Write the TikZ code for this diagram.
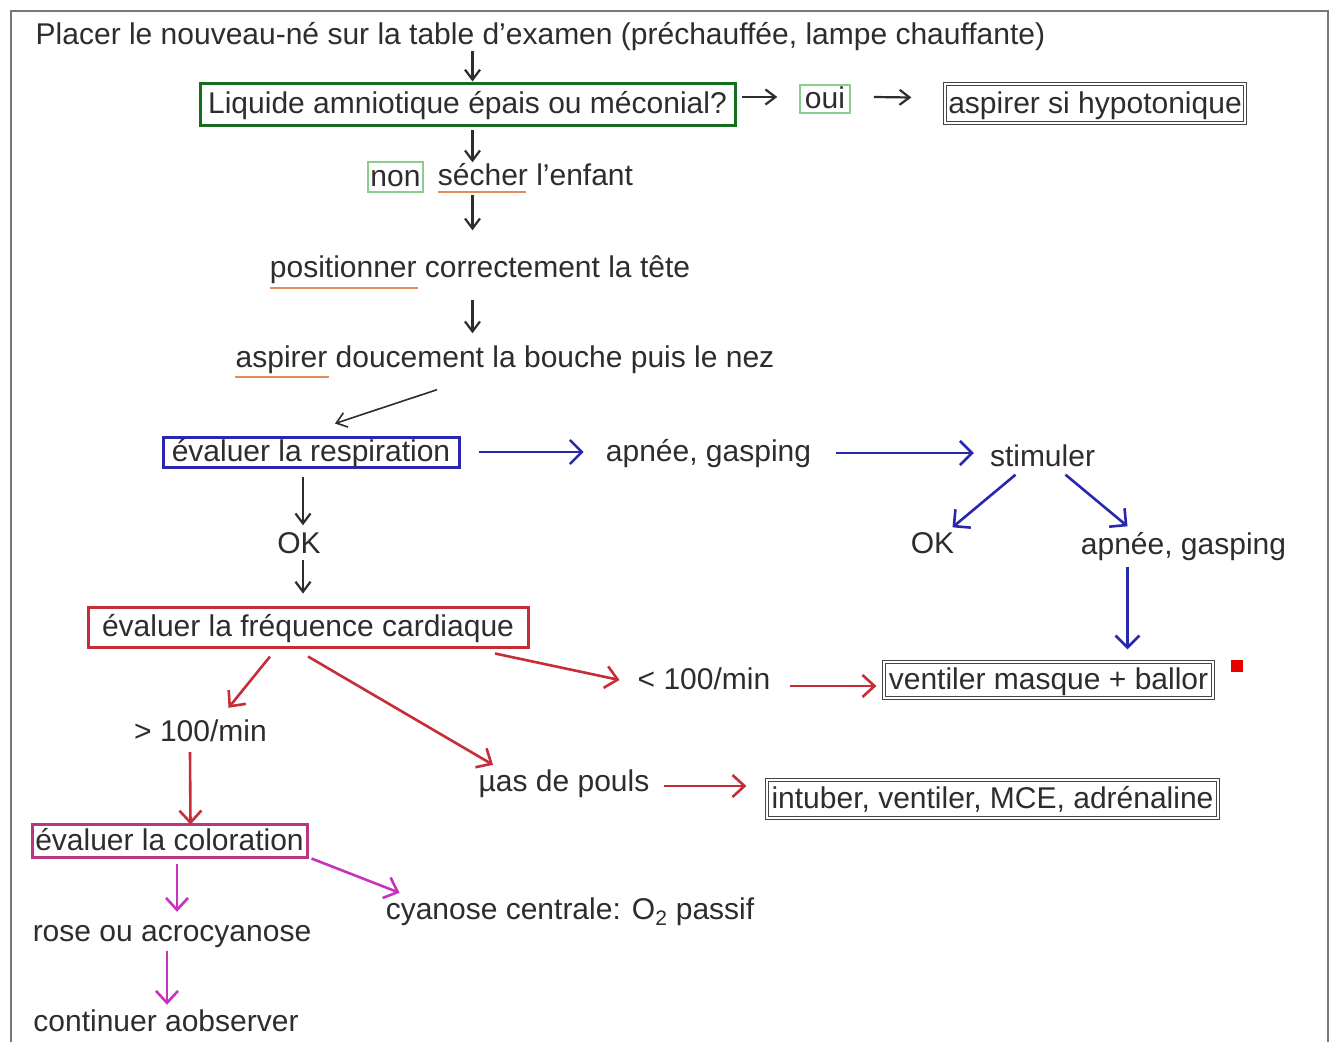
\documentclass[tikz,border=0pt]{standalone}
\usepackage{fontspec}
\setmainfont{Liberation Sans}
\usetikzlibrary{arrows.meta,calc}
\definecolor{txt}{RGB}{45,45,45}
\definecolor{framegray}{RGB}{120,120,120}
\definecolor{dgreen}{RGB}{20,110,30}
\definecolor{lgreen}{RGB}{140,205,140}
\definecolor{bblue}{RGB}{40,40,175}
\definecolor{rred}{RGB}{200,45,55}
\definecolor{mag}{RGB}{200,50,190}
\definecolor{pinkbox}{RGB}{185,55,130}
\definecolor{uorange}{RGB}{225,140,90}
\definecolor{boxgray}{RGB}{70,70,70}
\tikzset{
  lbl/.style={font=\fontsize{30}{34}\selectfont, text=txt, inner sep=2pt,
    text height=23pt, text depth=4pt},
  gbox/.style={lbl, draw=dgreen, line width=3pt},
  lgbox/.style={lbl, draw=lgreen, line width=1.5pt},
  kbox/.style={lbl, draw=boxgray, line width=1.2pt, double=white, double distance=1.2pt},
  bbox/.style={lbl, draw=bblue, line width=3pt},
  rbox/.style={lbl, draw=rred, line width=3pt},
  mbox/.style={lbl, draw=pinkbox, line width=3pt},
  karr/.style={draw=txt, line width=2.2pt, -{Straight Barb[length=10pt,width=15pt,line width=2.2pt]}},
  barr/.style={draw=bblue, line width=2.6pt, -{Straight Barb[length=12pt,width=24pt,line width=2.6pt]}},
  rarr/.style={draw=rred, line width=2.6pt, -{Straight Barb[length=12pt,width=22pt,line width=2.6pt]}},
  marr/.style={draw=mag, line width=2.6pt, -{Straight Barb[length=12pt,width=22pt,line width=2.6pt]}},
  uline/.style={draw=uorange, line width=1.8pt},
}
\begin{document}
\begin{tikzpicture}[x=1pt,y=-1pt]
\useasboundingbox (0,0) rectangle (1330,1041);
\clip (0,0) rectangle (1330,1041);
\fill[white] (0,0) rectangle (1330,1041);
\draw[framegray, line width=2pt] (11,1060) -- (11,11) -- (1328,11) -- (1328,1060);

% nodes
\node[lbl, minimum width=1015pt] (title) at (540.5,35) {Placer le nouveau-né sur la table d'examen (préchauffée, lampe chauffante)};
\node[gbox, minimum width=535pt, minimum height=42pt] (liq) at (467.5,104) {Liquide amniotique épais ou méconial?};
\node[lgbox, minimum width=50pt, minimum height=28pt, inner sep=0pt] (oui) at (825,99) {oui};
\node[kbox, minimum width=300pt, minimum height=39pt] (asp1) at (1095,103.5) {aspirer si hypotonique};
\node[lgbox, minimum width=55pt, minimum height=30pt, inner sep=0pt] (non) at (395.5,177) {non};
\node[lbl, minimum width=197pt] (sech) at (535.5,176) {sécher l'enfant};
\node[lbl, minimum width=424pt] (pos) at (480,268) {positionner correctement la tête};
\node[lbl, minimum width=542pt] (aspd) at (505,358) {aspirer doucement la bouche puis le nez};
\node[bbox, minimum width=296pt, minimum height=30pt, inner sep=0pt] (resp) at (311,452) {évaluer la respiration};
\node[lbl, minimum width=207pt] (apnee1) at (708.5,452) {apnée, gasping};
\node[lbl, minimum width=105pt] (stim) at (1042.5,457) {stimuler};
\node[lbl, minimum width=45pt] (ok2) at (932.5,544) {OK};
\node[lbl, minimum width=207pt] (apnee2) at (1183.5,545) {apnée, gasping};
\node[kbox, minimum width=329pt, minimum height=36pt, inner sep=0pt] (vent) at (1048.5,680) {ventiler masque + ballor};
\node[lbl, minimum width=42pt] (ok1) at (299,544) {OK};
\node[rbox, minimum width=440pt, minimum height=40pt] (freq) at (308,627) {évaluer la fréquence cardiaque};
\node[lbl, minimum width=132pt] (lt100) at (704,680) {< 100/min};
\node[lbl, minimum width=135pt] (gt100) at (200.5,732) {> 100/min};
\node[lbl, minimum width=172pt] (pouls) at (564,782) {µas de pouls};
\node[kbox, minimum width=451pt, minimum height=38pt, inner sep=0pt] (intub) at (992.5,799) {intuber, ventiler, MCE, adrénaline};
\node[mbox, minimum width=275pt, minimum height=33pt, inner sep=0pt] (color) at (169.5,840.5) {évaluer la coloration};
\node[lbl, minimum width=280pt] (rose) at (172,932) {rose ou acrocyanose};
\node[lbl, minimum width=368pt] (cyan) at (570,910) {cyanose centrale: O\textsubscript{2} passif};
\node[lbl, minimum width=268pt] (cont) at (166,1022) {continuer aobserver};

% red marker
\fill[red!90!black] (1231,660) rectangle (1243,672);

% spell-check underlines
\draw[uline] ($(sech.west)+(2,16)$) -- ++(88,0);
\draw[uline] ($(pos.west)+(2,20)$) -- ++(148,0);
\draw[uline] ($(aspd.west)+(2,19)$) -- ++(94,0);

% black connectors
\draw[karr] ($(title.south -| liq.north)+(5,0)$) -- ($(liq.north)+(5,0)$);
\draw[karr] ($(liq.east)+(5,-7)$) -- ($(oui.west)+(-22,-2)$);
\draw[karr] ($(oui.east)+(23,-2)$) -- ($(asp1.west)+(-33,-6)$);
\draw[karr] ($(liq.south)+(5,3)$) -- ($(sech.north -| liq.south)+(5,2)$);
\draw[karr] ($(sech.south -| liq.south)+(5,3)$) -- ($(pos.north -| liq.south)+(5,-22)$);
\draw[karr] ($(pos.south -| liq.south)+(5,16)$) -- ($(aspd.north -| liq.south)+(5,-9)$);
\draw[draw=txt, line width=1.6pt, -{Straight Barb[length=10pt,width=15pt,line width=1.6pt]}] ($(aspd.south -| resp.north)+(126,16)$) -- ($(resp.north)+(24,-12)$);
\draw[karr] ($(resp.south)+(-8,8)$) -- ($(ok1.north)+(4,-3)$);
\draw[karr] ($(ok1.south)+(4,0)$) -- ($(freq.north)+(-5,-12)$);

% blue connectors
\draw[barr] ($(resp.east)+(18,0)$) -- ($(apnee1.west)+(-20,0)$);
\draw[barr] ($(apnee1.east)+(23,1)$) -- ($(stim.west)+(-14,-4)$);
\draw[barr] ($(stim.south)+(-27,2)$) -- ($(ok2.north)+(20,-1)$);
\draw[barr] ($(stim.south)+(23,2)$) -- ($(apnee2.north)+(-56,-3)$);
\draw[barr] ($(apnee2.south)+(-56,6)$) -- ($(vent.north)+(79,-12)$);

% red connectors
\draw[rarr] ($(freq.south)+(187,5)$) -- ($(lt100.west)+(-16,0)$);
\draw[rarr] ($(lt100.east)+(17,6)$) -- ($(vent.west)+(-7,6)$);
\draw[rarr] ($(freq.south)+(-38,8)$) -- ($(gt100.north)+(28,-8.5)$);
\draw[rarr] ($(freq.south)+(0,8)$) -- ($(pouls.north)+(-71,-1.5)$);
\draw[rarr] ($(pouls.east)+(12,4)$) -- ($(intub.west)+(-20,-13)$);
\draw[rarr] ($(gt100.south)+(-10.5,4.5)$) -- ($(color.north)+(21,2)$);

% magenta connectors
\draw[marr] ($(color.south)+(7.5,5)$) -- ($(rose.north)+(5,-4.5)$);
\draw[marr] ($(color.south east)+(3,0)$) -- ($(cyan.north west)+(16,-1.5)$);
\draw[marr] ($(rose.south)+(-5,3)$) -- ($(cont.north)+(1,-1.5)$);
\end{tikzpicture}
\end{document}
